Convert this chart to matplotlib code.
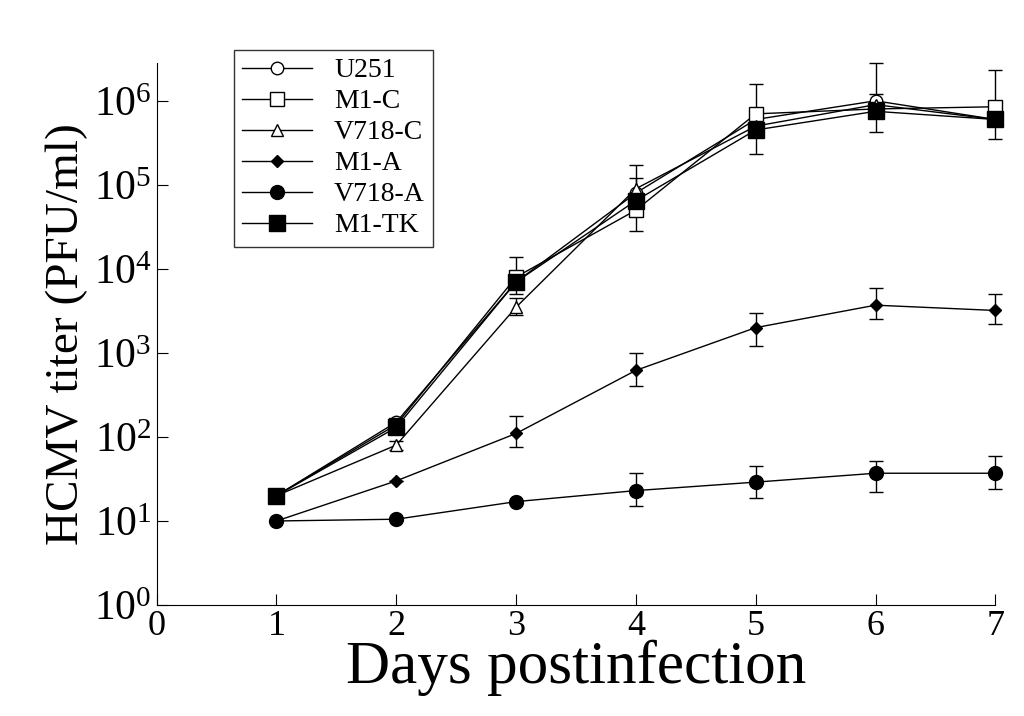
import numpy as np
import matplotlib.pyplot as plt
from matplotlib.lines import Line2D

days = [1, 2, 3, 4, 5, 6, 7]
u251 = [20, 150, 7000, 80000, 600000, 1000000, 600000]
m1c = [20, 140, 8000, 50000, 700000, 800000, 850000]
v718c = [20, 80, 3500, 90000, 500000, 900000, 600000]
m1a = [10, 30, 110, 620, 2000, 3700, 3200]
v718a = [10, 10.5, 17, 23, 29, 37, 37]
m1tk = [20, 130, 7000, 65000, 450000, 750000, 600000]

# error bar ranges (low, high)
u251_lo = [20, 150, 5000, 28000, 230000, 420000, 350000]
u251_hi = [20, 150, 14000, 170000, 1600000, 2800000, 2300000]
v718c_lo = [20, 70, 2800, 50000, 400000, 700000, 500000]
v718c_hi = [20, 90, 4500, 120000, 700000, 1200000, 800000]
m1a_lo = [10, 30, 75, 400, 1200, 2500, 2200]
m1a_hi = [10, 30, 180, 1000, 3000, 6000, 5000]
v718a_lo = [10, 10.5, 17, 15, 19, 22, 24]
v718a_hi = [10, 10.5, 17, 37, 45, 52, 60]

plt.rcParams['font.family'] = ['Liberation Serif', 'DejaVu Serif']
plt.rcParams['mathtext.fontset'] = 'custom'
plt.rcParams['mathtext.rm'] = 'Liberation Serif'
fig = plt.figure(figsize=(10.24, 7.16), dpi=100)
ax = fig.add_axes([0.153, 0.155, 0.819, 0.757])

def err(v, lo, hi):
    v = np.array(v, float)
    return [v - np.array(lo), np.array(hi) - v]

kw = dict(color='black', lw=1.0, capsize=5, elinewidth=1.0, capthick=1.0, clip_on=False)
series = [
    ('U251', u251, err(u251, u251_lo, u251_hi), 'o', 9, 'white'),
    ('M1-C', m1c, None, 's', 10, 'white'),
    ('V718-C', v718c, err(v718c, v718c_lo, v718c_hi), '^', 9, 'white'),
    ('M1-A', m1a, err(m1a, m1a_lo, m1a_hi), 'D', 6, 'black'),
    ('V718-A', v718a, err(v718a, v718a_lo, v718a_hi), 'o', 10, 'black'),
    ('M1-TK', m1tk, None, 's', 11, 'black'),
]
handles = []
for name, vals, yerr, mk, ms, fc in series:
    ax.errorbar(days, vals, yerr=yerr, marker=mk, ms=ms, mfc=fc, **kw)
    handles.append(Line2D([], [], color='black', lw=1.0, marker=mk, ms=ms, mfc=fc, label=name))

ax.set_yscale('log')
ax.set_ylim(1, 10 ** 6.45)
ax.set_xlim(0, 7)
ax.set_xticks(range(8))
ax.set_yticks([10 ** k for k in range(7)])
ax.minorticks_off()
ax.spines['top'].set_visible(False)
ax.spines['right'].set_visible(False)
ax.tick_params(axis='x', labelsize=26, direction='in', length=8)
ax.tick_params(axis='y', labelsize=30, direction='in', length=8)
ax.set_xlabel('Days postinfection', fontsize=44, labelpad=-2)
ax.set_ylabel('HCMV titer (PFU/ml)', fontsize=34)

fig.legend(handles=handles, loc='upper left', bbox_to_anchor=(0.215, 0.95), fontsize=20,
           frameon=True, fancybox=False, edgecolor='black', handlelength=2.5,
           labelspacing=0.2, borderpad=0.3)
fig.savefig('out.png', dpi=100)
